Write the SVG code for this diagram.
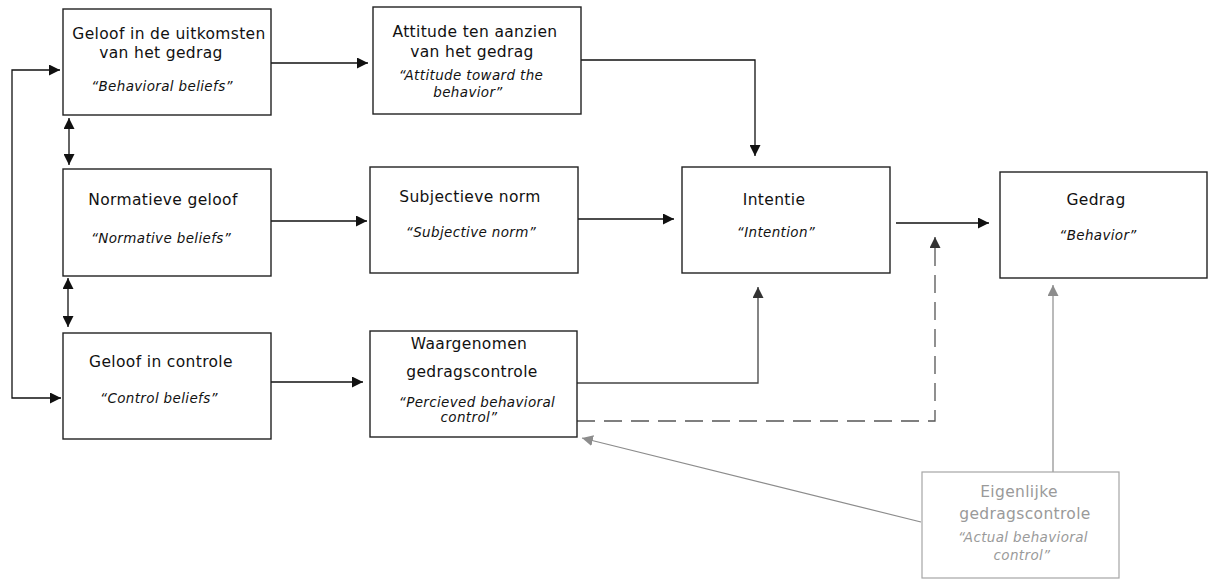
<svg xmlns="http://www.w3.org/2000/svg" width="1210" height="579" viewBox="0 0 1210 579">
  <style>
    .box { fill: #fff; stroke: #222; stroke-width: 1.4; }
    .box.muted { stroke: #a6a6a6; stroke-width: 1.2; }
    .t { font-family: "DejaVu Sans", Verdana, sans-serif; font-size: 15.5px; letter-spacing: 0.35px; fill: #111; text-anchor: middle; }
    .i { font-family: "DejaVu Sans", Verdana, sans-serif; font-size: 13.5px; letter-spacing: 0.35px; font-style: italic; fill: #111; text-anchor: middle; }
    .muted-text { fill: #9a9a9a; }
    .c { fill: none; stroke: #111; stroke-width: 1.3; }
    .c.mid { stroke: #444; }
    .c.dash { stroke: #555; stroke-dasharray: 18 9; }
    .c.grey { stroke: #8c8c8c; stroke-width: 1.2; }
  </style>
  <defs>
    <marker id="ah" viewBox="0 0 10 10" refX="10" refY="5" markerWidth="11" markerHeight="11" markerUnits="userSpaceOnUse" orient="auto-start-reverse">
      <path d="M0,0 L10,5 L0,10 z" fill="#111"/>
    </marker>
    <marker id="ah-mid" viewBox="0 0 10 10" refX="10" refY="5" markerWidth="11" markerHeight="11" markerUnits="userSpaceOnUse" orient="auto">
      <path d="M0,0 L10,5 L0,10 z" fill="#333"/>
    </marker>
    <marker id="ah-grey" viewBox="0 0 10 10" refX="10" refY="5" markerWidth="11" markerHeight="11" markerUnits="userSpaceOnUse" orient="auto">
      <path d="M0,0 L10,5 L0,10 z" fill="#8c8c8c"/>
    </marker>
  </defs>

  <g id="connectors">
    <!-- feedback loop on the left -->
    <path class="c" d="M60,70 H12 V398 H61" marker-start="url(#ah)" marker-end="url(#ah)"/>
    <!-- belief links between the left column boxes -->
    <path class="c" d="M69,118 V165" marker-start="url(#ah)" marker-end="url(#ah)"/>
    <path class="c" d="M68,278 V327" marker-start="url(#ah)" marker-end="url(#ah)"/>
    <!-- beliefs to attitude / norm / perceived control -->
    <path class="c" d="M271,63 H368" marker-end="url(#ah)"/>
    <path class="c" d="M271,221 H367" marker-end="url(#ah)"/>
    <path class="c" d="M271,382 H363" marker-end="url(#ah)"/>
    <!-- into intention -->
    <path class="c" d="M581,60 H755 V156" marker-end="url(#ah)"/>
    <path class="c" d="M578,219 H674" marker-end="url(#ah)"/>
    <path class="c mid" d="M577,383 H758 V287" marker-end="url(#ah-mid)"/>
    <!-- intention to behavior -->
    <path class="c" d="M896,223 H989" marker-end="url(#ah)"/>
    <!-- perceived control directly to behavior (dashed) -->
    <path class="c dash" d="M577,421 H935 V237" marker-end="url(#ah-mid)"/>
    <!-- actual control -->
    <path class="c grey" d="M1053,472 V285" marker-end="url(#ah-grey)"/>
    <path class="c grey" d="M921,522 L582,438" marker-end="url(#ah-grey)"/>
  </g>

  <g id="behavioral-beliefs">
    <rect class="box" x="63" y="9" width="208" height="106"/>
    <text class="t" x="169" y="39">Geloof in de uitkomsten</text>
    <text class="t" x="161" y="58">van het gedrag</text>
    <text class="i" x="162" y="91">“Behavioral beliefs”</text>
  </g>

  <g id="attitude">
    <rect class="box" x="373" y="7" width="208" height="107"/>
    <text class="t" x="475" y="37">Attitude ten aanzien</text>
    <text class="t" x="472" y="57">van het gedrag</text>
    <text class="i" x="471" y="80">“Attitude toward the</text>
    <text class="i" x="468" y="97">behavior”</text>
  </g>

  <g id="normative-beliefs">
    <rect class="box" x="63" y="169" width="208" height="107"/>
    <text class="t" x="163" y="205">Normatieve geloof</text>
    <text class="i" x="161" y="243">“Normative beliefs”</text>
  </g>

  <g id="control-beliefs">
    <rect class="box" x="63" y="333" width="208" height="106"/>
    <text class="t" x="161" y="367">Geloof in controle</text>
    <text class="i" x="159" y="403">“Control beliefs”</text>
  </g>

  <g id="subjective-norm">
    <rect class="box" x="370" y="167" width="208" height="106"/>
    <text class="t" x="470" y="202">Subjectieve norm</text>
    <text class="i" x="471" y="237">“Subjective norm”</text>
  </g>

  <g id="perceived-control">
    <rect class="box" x="370" y="331" width="207" height="106"/>
    <text class="t" x="469" y="349">Waargenomen</text>
    <text class="t" x="472" y="377">gedragscontrole</text>
    <text class="i" x="477" y="407">“Percieved behavioral</text>
    <text class="i" x="469" y="422">control”</text>
  </g>

  <g id="intention">
    <rect class="box" x="682" y="167" width="208" height="106"/>
    <text class="t" x="774" y="205">Intentie</text>
    <text class="i" x="776" y="237">“Intention”</text>
  </g>

  <g id="behavior">
    <rect class="box" x="1000" y="172" width="207" height="106"/>
    <text class="t" x="1096" y="205">Gedrag</text>
    <text class="i" x="1098" y="240">“Behavior”</text>
  </g>

  <g id="actual-control">
    <rect class="box muted" x="922" y="472" width="197" height="106"/>
    <text class="t muted-text" x="1019" y="497">Eigenlijke</text>
    <text class="t muted-text" x="1025" y="519">gedragscontrole</text>
    <text class="i muted-text" x="1023" y="542">“Actual behavioral</text>
    <text class="i muted-text" x="1022" y="560">control”</text>
  </g>
</svg>
